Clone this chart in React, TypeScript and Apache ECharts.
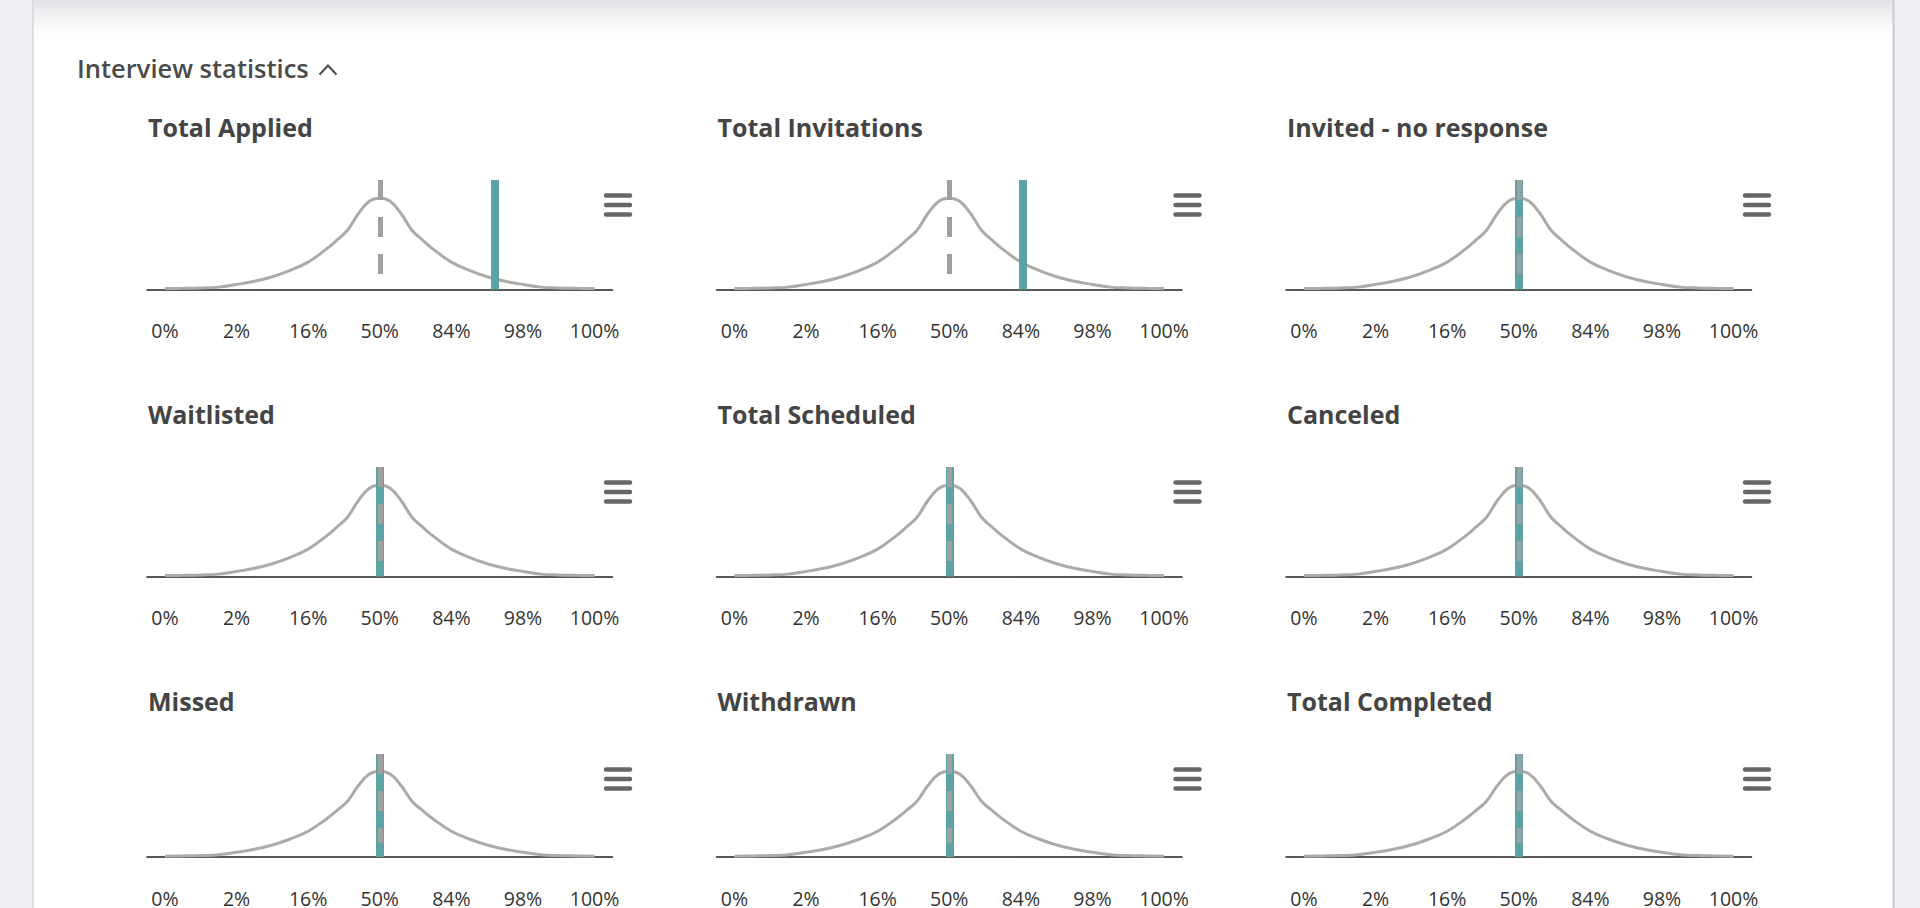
import React, { useEffect, useRef } from "react";
import * as echarts from "echarts";

// ---- data ----
const CHART_TITLES = [
  "Total Applied",
  "Total Invitations",
  "Invited - no response",
  "Waitlisted",
  "Total Scheduled",
  "Canceled",
  "Missed",
  "Withdrawn",
  "Total Completed",
];
const TICK_VALUES = [-3, -2, -1, 0, 1, 2, 3];
const TICK_LABELS = ["0%", "2%", "16%", "50%", "84%", "98%", "100%"];
const CURVE_X = [-3, -2.75, -2.5, -2.25, -2, -1.75, -1.5, -1.25, -1, -0.75, -0.6, -0.45, -0.3, -0.15, 0, 0.15, 0.3, 0.45, 0.6, 0.75, 1, 1.25, 1.5, 1.75, 2, 2.25, 2.5, 2.75, 3];
const CURVE_Y = [0.01, 0.013, 0.017, 0.026, 0.055, 0.09, 0.14, 0.21, 0.3, 0.44, 0.54, 0.65, 0.83, 0.965, 1, 0.965, 0.83, 0.65, 0.54, 0.44, 0.3, 0.21, 0.14, 0.09, 0.055, 0.026, 0.017, 0.013, 0.01];
const MEAN_VALUES = [0, 0, 0, 0, 0, 0, 0, 0, 0];
const SCORE_VALUES = [1.6, 1.02, 0, 0, 0, 0, 0, 0, 0];
const HEADER = "Interview statistics";

// ---- layout ----
const COL_X = [147, 716.5, 1286];
const ROW_AXIS_Y = [289.5, 576.5, 863.5];
const GRID_W = 465.5;
const GRID_H = 109.5;
const Y_MAX = 1.2;
const DASH_END = 0.165;
const FONT = "'Open Sans', 'Noto Sans', sans-serif";
const TEAL = "#5fa2a4";
const CURVE_GRAY = "#ababab";
const DASH_GRAY = "#a0a0a0";

export default function App() {
  const ref = useRef<HTMLDivElement>(null);

  useEffect(() => {
    if (!ref.current) return;
    const chart = echarts.init(ref.current, null, { renderer: "svg" });
    const curve = CURVE_X.map((x, k) => [x, CURVE_Y[k]]);

    const grids: any[] = [];
    const xAxes: any[] = [];
    const yAxes: any[] = [];
    const series: any[] = [];
    const graphics: any[] = [];

    // background panel
    graphics.push({
      type: "rect",
      z: -100,
      shape: { x: 33, y: 0, width: 1861, height: 908 },
      style: { fill: "#ffffff" },
    });
    graphics.push({
      type: "rect",
      z: -99,
      shape: { x: 34, y: 0, width: 1859, height: 50 },
      style: {
        fill: new echarts.graphic.LinearGradient(0, 0, 0, 1, [
          { offset: 0, color: "rgba(200,203,208,0.55)" },
          { offset: 1, color: "rgba(255,255,255,0)" },
        ]),
      },
    });
    graphics.push({
      type: "line",
      z: -98,
      shape: { x1: 33, y1: 0, x2: 33, y2: 908 },
      style: { stroke: "#d3d5d9", lineWidth: 1.5 },
    });
    graphics.push({
      type: "line",
      z: -98,
      shape: { x1: 1893.5, y1: 0, x2: 1893.5, y2: 908 },
      style: { stroke: "#c9cbcf", lineWidth: 2 },
    });

    // header
    graphics.push({
      type: "text",
      z: 10,
      style: {
        text: HEADER,
        x: 77,
        y: 68,
        verticalAlign: "middle",
        font: `600 25.5px ${FONT}`,
        fill: "#4a4a4a",
      },
    });
    graphics.push({
      type: "polyline",
      z: 10,
      shape: { points: [[319.5, 74.5], [328, 65.5], [336.5, 74.5]] },
      style: { stroke: "#4a4a4a", lineWidth: 2, fill: "none" },
    });

    CHART_TITLES.forEach((title, i) => {
      const col = i % 3;
      const row = Math.floor(i / 3);
      const left = COL_X[col];
      const axisY = ROW_AXIS_Y[row];

      grids.push({
        left,
        top: axisY - GRID_H,
        width: GRID_W,
        height: GRID_H,
        containLabel: false,
      });
      xAxes.push({
        type: "value",
        gridIndex: i,
        min: -3.25,
        max: 3.25,
        splitLine: { show: false },
        axisTick: { show: false },
        axisLine: { show: true, onZero: false, lineStyle: { color: "#222222", width: 1.5 } },
        axisLabel: {
          customValues: TICK_VALUES,
          formatter: (v: number) => {
            const k = TICK_VALUES.indexOf(Math.round(v));
            return k >= 0 ? TICK_LABELS[k] : "";
          },
          color: "#333333",
          fontSize: 19.5,
          fontFamily: FONT,
          margin: 31,
          lineHeight: 20,
        },
      });
      yAxes.push({
        type: "value",
        gridIndex: i,
        min: 0,
        max: Y_MAX,
        show: false,
      });

      // teal score marker (bottom)
      series.push({
        type: "line",
        xAxisIndex: i,
        yAxisIndex: i,
        z: 1,
        data: curve,
        symbol: "none",
        silent: true,
        lineStyle: { opacity: 0 },
        markLine: {
          silent: true,
          symbol: ["none", "none"],
          label: { show: false },
          lineStyle: { color: TEAL, width: 8, type: "solid", opacity: 1 },
          data: [{ xAxis: SCORE_VALUES[i] }],
        },
      });
      // bell curve
      series.push({
        type: "line",
        xAxisIndex: i,
        yAxisIndex: i,
        z: 2,
        data: curve,
        smooth: 0.4,
        symbol: "none",
        silent: true,
        lineStyle: { color: CURVE_GRAY, width: 3 },
      });
      // dashed mean line (top)
      series.push({
        type: "line",
        xAxisIndex: i,
        yAxisIndex: i,
        z: 3,
        data: curve,
        symbol: "none",
        silent: true,
        lineStyle: { opacity: 0 },
        markLine: {
          silent: true,
          symbol: ["none", "none"],
          label: { show: false },
          lineStyle: { color: DASH_GRAY, width: 5, type: [20, 17], opacity: 1, cap: "butt" },
          data: [[{ coord: [MEAN_VALUES[i], Y_MAX] }, { coord: [MEAN_VALUES[i], DASH_END] }]],
        },
      });

      // title
      graphics.push({
        type: "text",
        z: 10,
        style: {
          text: title,
          x: left + 1,
          y: axisY - 163,
          verticalAlign: "middle",
          font: `bold 25px ${FONT}`,
          fill: "#444444",
        },
      });
      // menu icon
      [-94, -84.5, -75].forEach((dy) => {
        graphics.push({
          type: "line",
          z: 10,
          shape: { x1: left + 459, y1: axisY + dy, x2: left + 483, y2: axisY + dy },
          style: { stroke: "#666666", lineWidth: 4.4, lineCap: "round" },
        });
      });
    });

    chart.setOption({
      animation: false,
      backgroundColor: "#edeef1",
      grid: grids,
      xAxis: xAxes,
      yAxis: yAxes,
      series,
      graphic: graphics,
    });

    return () => chart.dispose();
  }, []);

  return (
    <div
      ref={ref}
      style={{ position: "absolute", left: 0, top: 0, width: 1920, height: 908 }}
    />
  );
}
